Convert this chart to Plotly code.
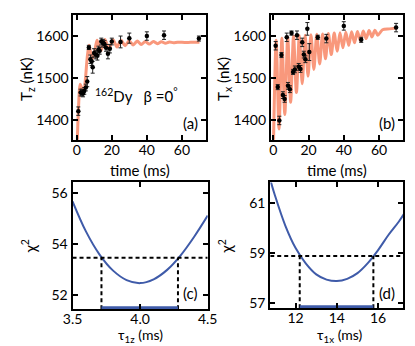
import plotly.graph_objects as go

W, H = 415, 346

# (a) T_z data, beta = 0
t_a = [0.9, 2.2, 3.0, 3.6, 4.3, 5.2, 6.0, 6.9, 7.8, 8.5, 9.1, 9.9, 10.9, 11.8, 12.4, 13.1,
       14.0, 14.9, 15.8, 16.7, 17.8, 18.9, 20.0, 25.0, 30.0, 40.0, 49.8, 69.7]
T_a = [1422, 1466, 1466, 1464, 1470, 1478, 1492, 1573, 1545, 1540, 1526, 1560, 1556, 1553, 1568, 1565,
       1587, 1584, 1581, 1572, 1558, 1570, 1587, 1586, 1595, 1600, 1602, 1594]
err_a = [10, 8, 8, 8, 8, 8, 12, 5, 10, 10, 14, 10, 10, 10, 8, 8,
         8, 8, 8, 8, 12, 10, 8, 14, 12, 10, 10, 6]
fit_t_a = [0, 1.0, 2.0, 3.0, 4.0, 5.0, 6.0, 7.0, 8.2, 9.2, 10.3, 11.6, 13.8, 16.1, 18.4, 20.7, 23.0,
           25.3, 27.6, 29.9, 32.2, 34.5, 36.8, 39.1, 41.4, 43.7, 46.0, 48.3, 50.6, 52.9, 55.2, 57.5,
           60, 65, 70]
fit_T_a = [1300, 1430, 1486, 1475, 1468, 1500, 1550, 1578, 1556, 1548, 1565, 1590, 1565, 1592, 1570,
           1591, 1574, 1590, 1577, 1589, 1579, 1588, 1580, 1587, 1581, 1587, 1582, 1586.5, 1583, 1586,
           1584, 1585.5, 1585, 1585, 1585]

# (b) T_x data
t_b = [1.3, 2.5, 3.4, 4.6, 5.4, 6.4, 7.6, 8.3, 9.4, 10.3, 11.2, 12.2, 13.4, 14.4, 15.4, 16.4,
       17.3, 18.2, 19.3, 20.4, 25.2, 30.1, 40.0, 49.9, 69.7]
T_b = [1577, 1479, 1400, 1555, 1460, 1451, 1597, 1482, 1474, 1607, 1515, 1521, 1602, 1527, 1522, 1585,
       1556, 1545, 1617, 1562, 1597, 1594, 1624, 1591, 1620]
err_b = [10, 6, 10, 6, 8, 8, 10, 8, 8, 5, 6, 8, 10, 8, 8, 10,
         8, 8, 15, 20, 5, 10, 10, 6, 10]
fit_t_b = [0, 1.6, 3.2, 4.85, 6.5, 8.15, 9.8, 11.45, 13.1, 14.75, 16.4, 18.05, 19.7, 21.35, 23.0,
           24.65, 26.3, 27.95, 29.6, 31.25, 32.9, 34.55, 36.2, 37.85, 39.5, 41.15, 42.8, 44.45, 46.1,
           47.75, 49.4, 51.05, 52.7, 54.35, 56.0, 57.65, 59.3, 62, 66, 70]
fit_T_b = [1330, 1590, 1380, 1595, 1414, 1598, 1443, 1600, 1466, 1601, 1487, 1602, 1505, 1603, 1521,
           1604, 1534, 1605, 1546, 1606, 1556, 1607, 1564, 1608, 1572, 1609, 1578, 1610, 1584,
           1611, 1589, 1612, 1594, 1613, 1598, 1614, 1602, 1615, 1617, 1619]

# (c) chi^2 vs tau_1z
tau_z = [3.5, 3.6, 3.7, 3.8, 3.9, 4.0, 4.1, 4.2, 4.3, 4.4, 4.5]
chi_z = [55.69, 54.5, 53.6, 52.97, 52.6, 52.48, 52.63, 53.0, 53.57, 54.3, 55.13]
ci_z = [3.714, 4.28]
thr_z = 53.48

# (d) chi^2 vs tau_1x
tau_x = [10.8, 11.0, 11.5, 12.0, 12.5, 13.0, 13.5, 14.0, 14.5, 15.0, 15.5, 16.0, 16.5, 17.0, 17.3]
chi_x = [61.85, 61.3, 60.1, 59.2, 58.58, 58.15, 57.94, 57.88, 57.97, 58.2, 58.6, 59.12, 59.72,
         60.25, 60.62]
ci_x = [12.2, 15.77]
thr_x = 58.88

FIT = "#F98D6E"
BLUE = "#3F5BA9"
FONT = "Lato"

def pxx(x):
    return x / W

def pxy(y):
    return 1 - y / H

rng_c = [51.45, 56.43]
rng_d = [56.79, 61.82]

fig = go.Figure()

def data_panel(xa, ya, fit_t, fit_T, t, T, err):
    fig.add_trace(go.Scatter(x=fit_t, y=fit_T, mode="lines", xaxis=xa, yaxis=ya,
                             line=dict(color=FIT, width=3, shape="spline", smoothing=0.8),
                             opacity=0.9, showlegend=False))
    fig.add_trace(go.Scatter(x=t, y=T, mode="markers", xaxis=xa, yaxis=ya,
                             marker=dict(color="black", size=4.5),
                             error_y=dict(type="data", array=err, color="#222", thickness=1, width=2),
                             showlegend=False))

def chi_panel(xa, ya, tau, chi, ci, thr, rng, xr):
    fig.add_trace(go.Scatter(x=tau, y=chi, mode="lines", xaxis=xa, yaxis=ya,
                             line=dict(color=BLUE, width=2, shape="spline", smoothing=1.0),
                             showlegend=False))
    dash = dict(color="black", width=2, dash="4px,3px")
    fig.add_trace(go.Scatter(x=xr, y=[thr, thr], mode="lines", xaxis=xa, yaxis=ya,
                             line=dash, showlegend=False))
    for c in ci:
        fig.add_trace(go.Scatter(x=[c, c], y=[rng[0], thr], mode="lines", xaxis=xa, yaxis=ya,
                                 line=dash, showlegend=False))
    fig.add_trace(go.Scatter(x=ci, y=[rng[0] + 0.06, rng[0] + 0.06], mode="lines", xaxis=xa,
                             yaxis=ya, line=dict(color=BLUE, width=3), showlegend=False))

data_panel("x", "y", fit_t_a, fit_T_a, t_a, T_a, err_a)
data_panel("x2", "y2", fit_t_b, fit_T_b, t_b, T_b, err_b)
chi_panel("x3", "y3", tau_z, chi_z, ci_z, thr_z, rng_c, [3.5, 4.5])
chi_panel("x4", "y4", tau_x, chi_x, ci_x, thr_x, rng_d, [10.77, 17.23])

ax = dict(showline=True, linecolor="black", linewidth=2, mirror="allticks", ticks="inside",
          ticklen=5, tickwidth=1.5, tickcolor="black", showgrid=False, zeroline=False,
          tickfont=dict(size=14, color="black", family=FONT))
xax = dict(ax, ticklabelstandoff=-4)

fig.update_layout(
    width=W, height=H, margin=dict(l=0, r=0, t=0, b=0),
    paper_bgcolor="white", plot_bgcolor="white", showlegend=False,
    xaxis=dict(xax, domain=[pxx(58.3), pxx(198)], range=[-1.85, 74], tickvals=[0, 20, 40, 60],
               anchor="y"),
    yaxis=dict(ax, domain=[pxy(133), pxy(7)], range=[1354, 1650], tickvals=[1400, 1500, 1600],
               anchor="x"),
    xaxis2=dict(xax, domain=[pxx(265.7), pxx(405)], range=[-1.4, 73.9], tickvals=[0, 20, 40, 60],
                anchor="y2"),
    yaxis2=dict(ax, domain=[pxy(133), pxy(7)], range=[1354, 1650], tickvals=[1400, 1500, 1600],
                anchor="x2"),
    xaxis3=dict(xax, domain=[pxx(57.3), pxx(199.3)], range=[3.5, 4.5], tickvals=[3.5, 4.0, 4.5],
                tickformat=".1f", anchor="y3"),
    yaxis3=dict(ax, domain=[pxy(304), pxy(176)], range=rng_c, tickvals=[52, 54, 56], anchor="x3"),
    xaxis4=dict(xax, domain=[pxx(265), pxx(405)], range=[10.77, 17.23], tickvals=[12, 14, 16],
                anchor="y4"),
    yaxis4=dict(ax, domain=[pxy(303), pxy(176)], range=rng_d, tickvals=[57, 59, 61], anchor="x4"),
)

def label(x, y, text, size=15, angle=0):
    fig.add_annotation(x=pxx(x), y=pxy(y), xref="paper", yref="paper", text=text, showarrow=False,
                       textangle=angle, xanchor="center", yanchor="middle",
                       font=dict(size=size, color="black", family=FONT))

label(128, 163, "time (ms)")
label(335, 163, "time (ms)")
label(10, 72, "T<sub>z</sub> (nK)", angle=-90)
label(217, 72, "T<sub>x</sub> (nK)", angle=-90)
label(12, 240, "χ<sup>2</sup>", angle=-90)
label(218, 240, "χ<sup>2</sup>", angle=-90)
label(129, 330, "τ<sub>1z</sub> (ms)", size=14)
label(338, 330, "τ<sub>1x</sub> (ms)", size=14)
label(125, 88, "<sup>162</sup>Dy   β =0<sup>°</sup>")
label(181, 116, "(a)")
label(388, 116, "(b)")
label(181, 287, "(c)")
label(388, 287, "(d)")

fig.write_html("out.html")
